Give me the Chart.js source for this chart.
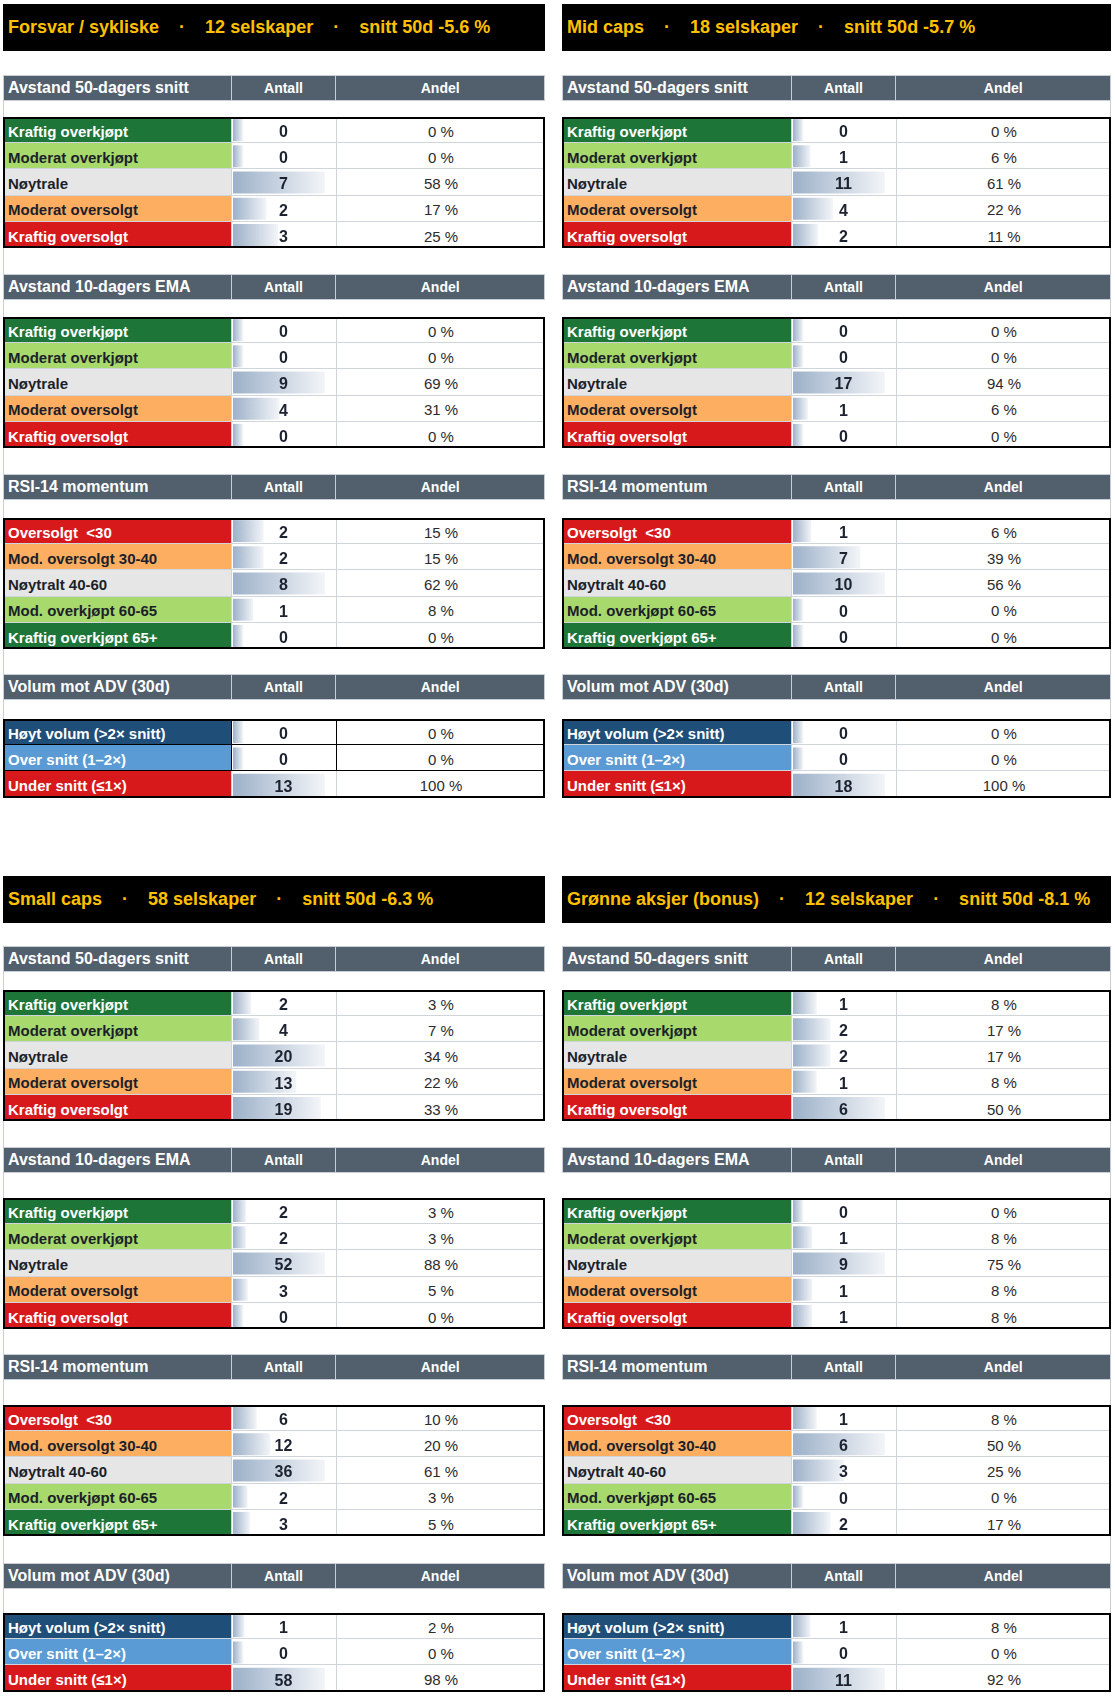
<!DOCTYPE html>
<html lang="no">
<head>
<meta charset="utf-8">
<title>Markedsbredde</title>
<script src="https://cdn.jsdelivr.net/npm/chart.js@4.4.1/dist/chart.umd.min.js"></script>
<style>
  body { margin: 0; background: #fff; width: 1115px; height: 1703px; position: relative; overflow: hidden;
         font-family: Arial, "Liberation Sans", sans-serif; }
  .abs { position: absolute; box-sizing: border-box; }
  .title { background: #000; color: #FFC000; font-weight: bold; font-size: 18px; white-space: pre;
           padding-left: 5px; display: flex; align-items: center; }
  .head { background: #525F6D; border: 1px solid #C9CED6; color: #fff; font-weight: bold; display: flex; }
  .head div { display: flex; align-items: center; height: 100%; box-sizing: border-box; }
  .head .h0 { font-size: 16px; padding-left: 4px; }
  .head .h1, .head .h2 { font-size: 14px; justify-content: center; border-left: 1px solid #C9CED6; }
  .row { display: flex; box-sizing: border-box; border-bottom: 1px solid #D0D5DC; }
  .row.last { border-bottom: none; }
  .cell { height: 100%; display: flex; align-items: center; box-sizing: border-box; padding-top: 3px; }
  .lab { font-size: 15px; font-weight: bold; padding-left: 5px; white-space: pre; }
  .ant { border-left: 1px solid #D0D5DC; }
  .and { border-left: 1px solid #D0D5DC; justify-content: center; font-size: 15px; color: #2b2b2b; }
  .blk { border-color: #000 !important; }
  .frame { border: 2px solid #000; pointer-events: none; z-index: 3; }
  .edge { background: #C9CED6; width: 1px; }
  canvas { z-index: 2; }
</style>
</head>
<body>
<script>
// Panels
const panelNames = ['Forsvar / sykliske', 'Mid caps', 'Small caps', 'Grønne aksjer (bonus)'];
const panelCompanies = [12, 18, 58, 12];
const panelAvg50d = [-5.6, -5.7, -6.3, -8.1];

// Sections and row categories
const sectionTitles = ['Avstand 50-dagers snitt', 'Avstand 10-dagers EMA', 'RSI-14 momentum', 'Volum mot ADV (30d)'];
const trendLabels = ['Kraftig overkjøpt', 'Moderat overkjøpt', 'Nøytrale', 'Moderat oversolgt', 'Kraftig oversolgt'];
const rsiLabels = ['Oversolgt  <30', 'Mod. oversolgt 30-40', 'Nøytralt 40-60', 'Mod. overkjøpt 60-65', 'Kraftig overkjøpt 65+'];
const volumeLabels = ['Høyt volum (>2× snitt)', 'Over snitt (1–2×)', 'Under snitt (≤1×)'];

// Antall / Andel per panel (Forsvar, Mid, Small, Grønne)
const count50d = [[0, 0, 7, 2, 3], [0, 1, 11, 4, 2], [2, 4, 20, 13, 19], [1, 2, 2, 1, 6]];
const pct50d = [[0, 0, 58, 17, 25], [0, 6, 61, 22, 11], [3, 7, 34, 22, 33], [8, 17, 17, 8, 50]];
const countEma = [[0, 0, 9, 4, 0], [0, 0, 17, 1, 0], [2, 2, 52, 3, 0], [0, 1, 9, 1, 1]];
const pctEma = [[0, 0, 69, 31, 0], [0, 0, 94, 6, 0], [3, 3, 88, 5, 0], [0, 8, 75, 8, 8]];
const countRsi = [[2, 2, 8, 1, 0], [1, 7, 10, 0, 0], [6, 12, 36, 2, 3], [1, 6, 3, 0, 2]];
const pctRsi = [[15, 15, 62, 8, 0], [6, 39, 56, 0, 0], [10, 20, 61, 3, 5], [8, 50, 25, 0, 17]];
const countVol = [[0, 0, 13], [0, 0, 18], [1, 0, 58], [1, 0, 11]];
const pctVol = [[0, 0, 100], [0, 0, 100], [2, 0, 98], [8, 0, 92]];

// ---- styling / layout ----
const GREEN_DK = '#1E7538', GREEN_LT = '#A8D96C', GREY = '#E6E6E6', ORANGE = '#FDAE61', RED = '#D7191C';
const NAVY = '#1F4E79', BLUE = '#5B9BD5';
const trendFill = [GREEN_DK, GREEN_LT, GREY, ORANGE, RED];
const rsiFill = [RED, ORANGE, GREY, GREEN_LT, GREEN_DK];
const volFill = [NAVY, BLUE, RED];
const whiteText = [GREEN_DK, RED, NAVY, BLUE];

const panelX = [3, 562, 3, 562];
const panelCols = [[228, 105, 209], [229, 105, 215], [228, 105, 209], [229, 105, 215]];
const layouts = [
  { title: 4, heads: [75, 274, 474, 674], boxes: [117, 317, 518, 719] },
  { title: 876, heads: [946, 1147, 1354, 1563], boxes: [990, 1198, 1405, 1613] }
];
const ROW_H = 26.2, HEAD_H = 26, TITLE_H = 47;

const sections = [
  { labels: trendLabels, fill: trendFill, counts: count50d, pcts: pct50d },
  { labels: trendLabels, fill: trendFill, counts: countEma, pcts: pctEma },
  { labels: rsiLabels, fill: rsiFill, counts: countRsi, pcts: pctRsi },
  { labels: volumeLabels, fill: volFill, counts: countVol, pcts: pctVol }
];

function el(cls, x, y, w, h, parent) {
  const d = document.createElement('div');
  d.className = cls;
  if (x !== null) {
    d.style.left = x + 'px'; d.style.top = y + 'px';
    d.style.width = w + 'px'; d.style.height = h + 'px';
  }
  (parent || document.body).appendChild(d);
  return d;
}

// gradient data bar, like Excel's
function barFill(ctx) {
  const chart = ctx.chart;
  if (!chart.chartArea || ctx.type !== 'data') return '#A9BAD0';
  const xs = chart.scales.x;
  const x0 = xs.getPixelForValue(xs.min);
  const x1 = xs.getPixelForValue(ctx.raw);
  const g = chart.ctx.createLinearGradient(x0, 0, Math.max(x1, x0 + 1), 0);
  g.addColorStop(0, '#9DB1C9');
  g.addColorStop(1, '#F3F5F8');
  return g;
}

// count printed in the middle of the cell
const valueLabels = {
  id: 'valueLabels',
  afterDatasetsDraw(chart) {
    const c = chart.ctx;
    const values = chart.data.datasets[0].data;
    c.save();
    c.font = 'bold 16px Arial, "Liberation Sans", sans-serif';
    c.fillStyle = '#1C2230';
    c.textAlign = 'center';
    c.textBaseline = 'middle';
    chart.getDatasetMeta(0).data.forEach((bar, i) => {
      c.fillText(String(values[i]), chart.width / 2, bar.y + 2.5);
    });
    c.restore();
  }
};

function drawBars(x, y, w, h, labels, values) {
  const canvas = document.createElement('canvas');
  canvas.className = 'abs';
  canvas.width = w; canvas.height = h;
  canvas.style.left = x + 'px'; canvas.style.top = y + 'px';
  document.body.appendChild(canvas);
  const top = Math.max(...values, 1);
  const floor = -top * 10 / 81;
  new Chart(canvas, {
    type: 'bar',
    data: {
      labels: labels,
      datasets: [{ data: values, base: floor, backgroundColor: barFill, borderWidth: 0,
                   barPercentage: 0.84, categoryPercentage: 1 }]
    },
    options: {
      indexAxis: 'y',
      responsive: false,
      animation: false,
      events: [],
      layout: { padding: { left: 2, right: 11, top: 0, bottom: 0 } },
      scales: {
        x: { display: false, min: floor, max: top, bounds: 'data' },
        y: { display: false }
      },
      plugins: { legend: { display: false }, tooltip: { enabled: false } }
    },
    plugins: [valueLabels]
  });
}

panelNames.forEach((name, p) => {
  const lay = layouts[p < 2 ? 0 : 1];
  const x = panelX[p];
  const cols = panelCols[p];
  const W = cols[0] + cols[1] + cols[2];

  const t = el('abs title', x, lay.title, W, TITLE_H);
  t.textContent = name + '    ·    ' + panelCompanies[p] + ' selskaper    ·    snitt 50d ' +
    panelAvg50d[p].toFixed(1) + ' %';

  // light sheet border running down the outer side of the panel
  const lastBox = lay.boxes[3] + sections[3].labels.length * ROW_H;
  el('abs edge', p % 2 === 0 ? x : x + W - 1, lay.heads[0], 1, lastBox - lay.heads[0]);

  sections.forEach((sec, s) => {
    const hd = el('abs head', x, lay.heads[s], W, HEAD_H);
    [sectionTitles[s], 'Antall', 'Andel'].forEach((txt, k) => {
      const c = document.createElement('div');
      c.className = 'h' + k;
      c.style.width = (cols[k] - (k === 0 ? 1 : 0)) + 'px';
      c.textContent = txt;
      hd.appendChild(c);
    });

    const n = sec.labels.length;
    const bx = lay.boxes[s];
    const body = el('abs', x, bx, W, n * ROW_H);
    sec.labels.forEach((lab, r) => {
      const row = el('row' + (r === n - 1 ? ' last' : ''), null, 0, 0, 0, body);
      row.style.height = ROW_H + 'px';
      const black = p === 0 && s === 3 && r < 2;
      if (black) row.classList.add('blk');
      const c0 = el('cell lab', null, 0, 0, 0, row);
      c0.style.width = cols[0] + 'px';
      c0.style.background = sec.fill[r];
      c0.style.color = whiteText.includes(sec.fill[r]) ? '#FFFFFF' : '#1B1F2A';
      c0.textContent = lab;
      const c1 = el('cell ant' + (black ? ' blk' : ''), null, 0, 0, 0, row);
      c1.style.width = cols[1] + 'px';
      const c2 = el('cell and' + (black ? ' blk' : ''), null, 0, 0, 0, row);
      c2.style.width = cols[2] + 'px';
      c2.textContent = sec.pcts[p][r] + ' %';
    });

    drawBars(x + cols[0], bx, cols[1], Math.round(n * ROW_H), sec.labels, sec.counts[p]);
    el('abs frame', x, bx, W, n * ROW_H);
  });
});
</script>
</body>
</html>
